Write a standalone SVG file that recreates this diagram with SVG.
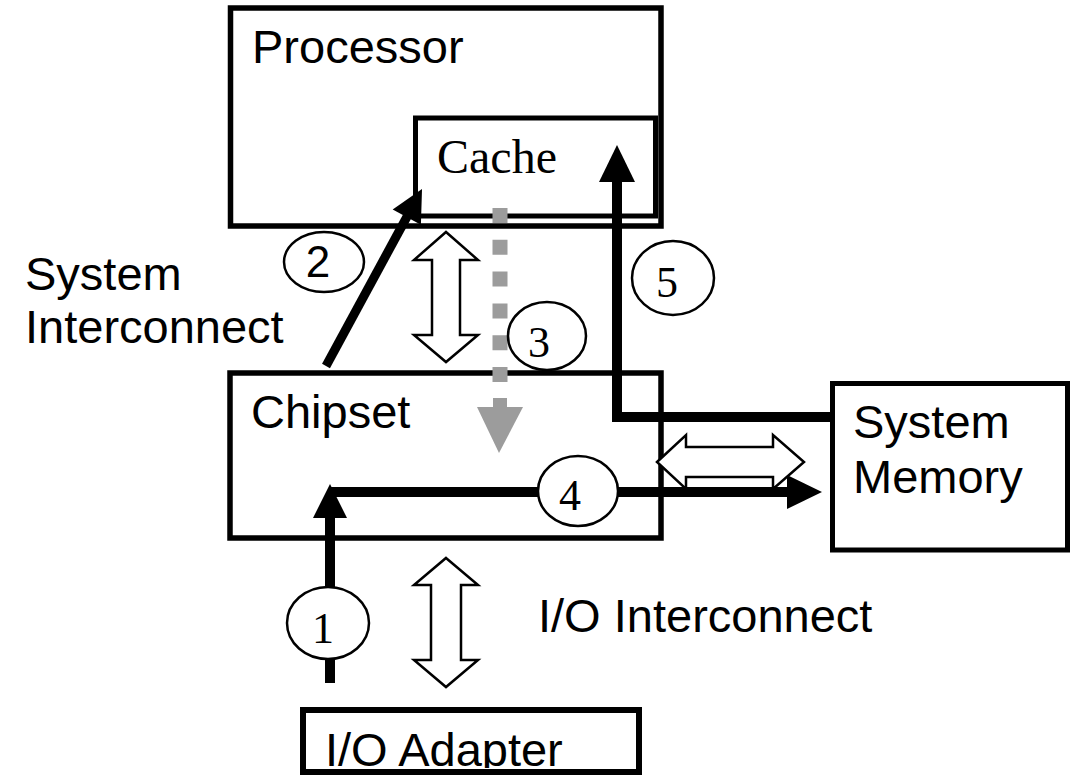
<svg xmlns="http://www.w3.org/2000/svg" width="1079" height="776" viewBox="0 0 1079 776">
<style>
.box{fill:#fff;stroke:#000;stroke-width:5.5}
.sans{font-family:"Liberation Sans",Arial,sans-serif;font-size:47px;fill:#000}
.serif{font-family:"Liberation Serif","Times New Roman",serif;fill:#000}
.dbl{fill:#fff;stroke:#000;stroke-width:2.5;stroke-linejoin:miter}
.flow{fill:none;stroke:#000;stroke-width:10;stroke-linejoin:miter}
.head{fill:#000}
.badge{fill:#fff;stroke:#000;stroke-width:2.5}
.num{font-family:"Liberation Serif","Times New Roman",serif;font-size:44px;text-anchor:middle;fill:#000}
</style>
<defs>
<clipPath id="ioclip"><rect x="303" y="712" width="336" height="56"/></clipPath>
</defs>
<rect x="0" y="0" width="1079" height="776" fill="#fff"/>

<g id="processor">
<rect class="box" x="230.5" y="8" width="430.5" height="218"/>
<text class="sans" x="252" y="63">Processor</text>
</g>
<g id="cache">
<rect class="box" x="415.5" y="118" width="240" height="98" style="stroke-width:5"/>
<text class="serif" x="437" y="173" font-size="48">Cache</text>
</g>
<g id="chipset">
<rect class="box" x="230" y="373" width="431" height="165"/>
<text class="sans" x="251" y="428">Chipset</text>
</g>
<g id="system-memory">
<rect class="box" x="832.5" y="383.5" width="235" height="166.5" style="stroke-width:5"/>
<text class="sans" x="853" y="438">System</text>
<text class="sans" x="853" y="493">Memory</text>
</g>
<g id="io-adapter">
<rect class="box" x="303" y="710" width="336" height="62" style="stroke-width:6"/>
<text class="sans" x="325" y="766" clip-path="url(#ioclip)">I/O Adapter</text>
</g>
<g id="system-interconnect-label">
<text class="sans" x="25" y="290">System</text>
<text class="sans" x="25" y="343">Interconnect</text>
</g>
<g id="io-interconnect-label">
<text class="sans" x="538" y="632">I/O Interconnect</text>
</g>

<g id="connectors">
<polygon id="bus-system" class="dbl" points="446,232 478,260 460,260 460,335 478,335 446,362 414,335 432,335 432,260 414,260"/>
<polygon id="bus-io" class="dbl" points="446,558 478,585 461,585 461,660 478,660 446,687 414,660 431,660 431,585 414,585"/>
<polygon id="bus-memory" class="dbl" points="657,462 686,435 686,447 773,447 773,435 804,462 773,489 773,477 686,477 686,489"/>

<g id="flow-3" fill="#9c9c9c">
<line x1="500" y1="208" x2="500" y2="383" stroke="#9c9c9c" stroke-width="15" stroke-dasharray="15 16.8"/>
<rect x="493" y="398" width="14" height="10"/>
<polygon points="477,407 523,407 499,453"/>
</g>

<g id="flow-1">
<path class="flow" d="M330 683 V517"/>
<polygon class="head" points="330,484 313,518 347,518"/>
</g>
<g id="flow-4">
<path class="flow" d="M330 492 H790"/>
<polygon class="head" points="822,492 787,475 787,509"/>
</g>
<g id="flow-2">
<line x1="326" y1="366" x2="409" y2="213" stroke="#000" stroke-width="9"/>
<polygon class="head" points="422,189 392.7,209.6 420.9,224.8"/>
</g>
<g id="flow-5">
<path class="flow" d="M833 417 H617 V180"/>
<polygon class="head" points="617,145 599,182 635,182"/>
</g>
</g>

<g id="badge-2">
<ellipse class="badge" cx="324" cy="262" rx="40" ry="30"/>
<text x="318" y="277" text-anchor="middle" font-family="Liberation Sans, Arial, sans-serif" font-size="44">2</text>
</g>
<g id="badge-3">
<ellipse class="badge" cx="547" cy="336" rx="39" ry="34"/>
<text class="num" x="539" y="357">3</text>
</g>
<g id="badge-5">
<ellipse class="badge" cx="673" cy="278" rx="41" ry="37"/>
<text class="num" x="667" y="297">5</text>
</g>
<g id="badge-4">
<ellipse class="badge" cx="578" cy="491" rx="40" ry="35"/>
<text class="num" x="570" y="510">4</text>
</g>
<g id="badge-1">
<ellipse class="badge" cx="328" cy="623" rx="41" ry="36"/>
<text class="num" x="323" y="643">1</text>
</g>
</svg>
